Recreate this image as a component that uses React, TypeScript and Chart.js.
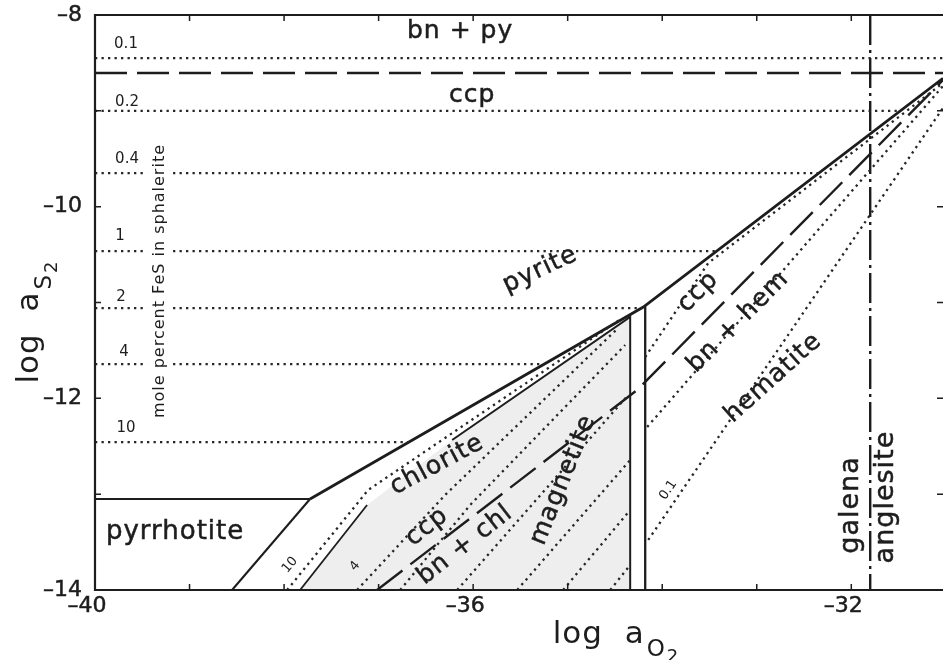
import { useEffect, useRef } from "react";
import { Chart, registerables } from "chart.js";

Chart.register(...registerables);

// ---------- axes ----------
const X_MIN = -40;
const X_MAX = -31.03;
const Y_MIN = -14;
const Y_MAX = -8;
const xTickValues = [-40, -36, -32];
const yTickValues = [-8, -10, -12, -14];
const xMinorTicks = [-39, -38, -37, -36, -35, -34, -33, -32, -31];
const yMinorTicks = [-9, -10, -11, -12, -13];

// ---------- solid phase boundaries (log aO2, log aS2) ----------
const pyrrhotiteTopX = [-40, -37.725];
const pyrrhotiteTopY = [-13.05, -13.05];
const pyriteBoundX = [-37.725, -34.2, -31.03];
const pyriteBoundY = [-13.05, -11.047, -8.66];
const pyrrhotiteMagX = [-37.725, -38.55];
const pyrrhotiteMagY = [-13.05, -14];
const chlMagLowX = [-37.831, -37.122];
const chlMagLowY = [-14, -13.113];
const chlMagUpX = [-36.222, -34.339, -34.339];
const chlMagUpY = [-12.435, -11.151, -14];
const magHemX = [-34.18, -34.18];
const magHemY = [-11.04, -14];

// ---------- ccp / bn boundaries (long dashed) ----------
const ccpBnPyX = [-40, -31.03];
const ccpBnPyY = [-8.605, -8.605];
const ccpBnX = [-37.016, -34.265, -31.03];
const ccpBnY = [-14, -11.913, -8.68];

// ---------- galena / anglesite (dash-dot) ----------
const galenaX = [-31.8, -31.8];
const galenaY = [-8, -14];

// ---------- FeS isopleths in sphalerite (mole %), pyrite field ----------
const fesLabels = ["0.1", "0.2", "0.4", "1", "2", "4", "10"];
const fesLevel = [-8.45, -9.0, -9.649, -10.463, -11.058, -11.642, -12.456];
const fesEndX = [-31.03, -31.48, -32.34, -33.42, -34.21, -35.25, -36.68];
const fesLabelX = [-39.672, -39.661, -39.661, -39.735, -39.725, -39.693, -39.672];
const fesLabelY = [-8.303, -8.908, -9.503, -10.306, -10.943, -11.517, -12.31];

// ---------- FeS isopleths, chlorite / magnetite field ----------
const m1X = [-37.968, -37.111, -34.423];
const m1Y = [-14, -12.957, -11.162];
const m2X = [-37.228, -36.296, -34.466];
const m2Y = [-14, -13.008, -11.266];
const m3X = [-36.772, -36.032, -34.392];
const m3Y = [-14, -13.113, -11.444];
const m4X = [-36.169, -34.36];
const m4Y = [-14, -11.965];
const m5X = [-35.534, -34.339];
const m5Y = [-14, -12.644];
const m6X = [-35.048, -34.339];
const m6Y = [-14, -13.165];
const m7X = [-34.55, -34.339];
const m7Y = [-14, -13.739];

// ---------- FeS isopleths, hematite field ----------
const h1X = [-34.18, -33.513, -31.03];
const h1Y = [-11.569, -10.588, -8.71];
const h2X = [-34.159, -31.03];
const h2Y = [-12.299, -8.741];
const h3X = [-34.148, -31.03];
const h3Y = [-13.478, -8.97];

// ---------- shaded (stippled) magnetite area ----------
const stippleX = [-37.831, -37.122, -36.222, -34.339, -34.339];
const stippleY = [-14, -13.113, -12.435, -11.151, -14];

// ---------- field labels ----------
const fieldText = ["bn + py", "ccp", "pyrite", "chlorite", "ccp", "bn + chl", "magnetite", "ccp", "bn + hem", "hematite", "pyrrhotite", "galena", "anglesite", "0.1", "10", "4"];
const fieldX = [-36.138, -36.011, -35.291, -36.381, -36.487, -36.085, -35.048, -33.619, -33.196, -32.825, -39.153, -32.0, -31.63, -33.937, -37.937, -37.249];
const fieldY = [-8.177, -8.835, -10.661, -12.696, -13.343, -13.531, -12.852, -10.891, -11.204, -11.788, -13.395, -13.113, -13.03, -12.957, -13.739, -13.75];
const fieldAngle = [0, 0, 25, 28, 38, 38, 68, 45, 45, 42, 0, 90, 90, 56, 50, 50];
const fieldSize = [25, 25, 25, 25, 25, 25, 25, 25, 25, 25, 26, 27, 27, 13, 13, 13];

const FONT = '"DejaVu Sans", sans-serif';
const INK = "#1d1d1d";

const pts = (xs: number[], ys: number[]) => xs.map((x, i) => ({ x, y: ys[i] }));

const solid = (xs: number[], ys: number[], w = 2.2) => ({
  data: pts(xs, ys), showLine: true, borderColor: INK, borderWidth: w,
  pointRadius: 0, fill: false, borderCapStyle: "butt" as const, borderJoinStyle: "miter" as const,
});
const dotted = (xs: number[], ys: number[]) => ({
  data: pts(xs, ys), showLine: true, borderColor: "#262626", borderWidth: 2.3,
  borderDash: [2.3, 4.2], pointRadius: 0, fill: false,
});
const dashed = (xs: number[], ys: number[]) => ({
  data: pts(xs, ys), showLine: true, borderColor: INK, borderWidth: 2.4,
  borderDash: [32, 10], pointRadius: 0, fill: false,
});

function buildDatasets() {
  const ds: any[] = [];
  fesLevel.forEach((lv, i) => ds.push(dotted([X_MIN, fesEndX[i]], [lv, lv])));
  [[m1X, m1Y], [m2X, m2Y], [m3X, m3Y], [m4X, m4Y], [m5X, m5Y], [m6X, m6Y], [m7X, m7Y], [h1X, h1Y], [h2X, h2Y], [h3X, h3Y]]
    .forEach(([a, b]) => ds.push(dotted(a, b)));
  ds.push(dashed(ccpBnPyX, ccpBnPyY));
  ds.push(dashed(ccpBnX, ccpBnY));
  ds.push({
    data: pts(galenaX, galenaY), showLine: true, borderColor: INK, borderWidth: 2.4,
    borderDash: [30, 5, 3, 5], pointRadius: 0, fill: false,
  });
  ds.push(solid(pyrrhotiteTopX, pyrrhotiteTopY, 2.1));
  ds.push(solid(pyriteBoundX, pyriteBoundY, 2.8));
  ds.push(solid(pyrrhotiteMagX, pyrrhotiteMagY, 2.1));
  ds.push(solid(chlMagLowX, chlMagLowY, 1.8));
  ds.push(solid(chlMagUpX, chlMagUpY, 2));
  ds.push(solid(magHemX, magHemY, 2.3));
  return ds;
}

const stipplePlugin = {
  id: "stipple",
  beforeDatasetsDraw(chart: any) {
    const { ctx, scales } = chart;
    ctx.save();
    ctx.beginPath();
    stippleX.forEach((v, i) => {
      const px = scales.x.getPixelForValue(v);
      const py = scales.y.getPixelForValue(stippleY[i]);
      if (i === 0) ctx.moveTo(px, py); else ctx.lineTo(px, py);
    });
    ctx.closePath();
    ctx.fillStyle = "rgba(0,0,0,0.065)";
    ctx.fill();
    ctx.restore();
  },
};

const TITLE = 31;

function drawSubTitle(ctx: CanvasRenderingContext2D, main: string, sub: string, sub2: string) {
  ctx.font = `${TITLE}px ${FONT}`;
  ctx.fillText(main, 0, 0);
  let w = ctx.measureText(main).width + 2;
  ctx.font = `23px ${FONT}`;
  ctx.fillText(sub, w, 13);
  w += ctx.measureText(sub).width + 1;
  ctx.font = `18px ${FONT}`;
  ctx.fillText(sub2, w, 19);
}

function titleWidth(ctx: CanvasRenderingContext2D, main: string, sub: string, sub2: string) {
  ctx.font = `${TITLE}px ${FONT}`;
  let w = ctx.measureText(main).width + 2;
  ctx.font = `23px ${FONT}`;
  w += ctx.measureText(sub).width + 1;
  ctx.font = `18px ${FONT}`;
  w += ctx.measureText(sub2).width;
  return w;
}

const overlayPlugin = {
  id: "overlay",
  afterDraw(chart: any) {
    const { ctx, chartArea: ca, scales } = chart;
    const X = (v: number) => scales.x.getPixelForValue(v);
    const Y = (v: number) => scales.y.getPixelForValue(v);
    ctx.save();
    ctx.strokeStyle = INK;
    ctx.fillStyle = INK;
    (ctx as any).letterSpacing = "0px";

    // frame
    ctx.lineWidth = 2.2;
    ctx.beginPath();
    ctx.moveTo(ca.right + 2, ca.top);
    ctx.lineTo(ca.left, ca.top);
    ctx.lineTo(ca.left, ca.bottom);
    ctx.lineTo(ca.right + 2, ca.bottom);
    ctx.stroke();

    // inward ticks
    ctx.lineWidth = 1.5;
    ctx.beginPath();
    xMinorTicks.forEach((v) => {
      const px = X(v);
      ctx.moveTo(px, ca.bottom); ctx.lineTo(px, ca.bottom - 6);
      ctx.moveTo(px, ca.top); ctx.lineTo(px, ca.top + 6);
    });
    yMinorTicks.forEach((v) => {
      const py = Y(v);
      ctx.moveTo(ca.left, py); ctx.lineTo(ca.left + 6, py);
      ctx.moveTo(ca.right, py); ctx.lineTo(ca.right - 6, py);
    });
    ctx.stroke();

    // tick labels
    ctx.font = `22px ${FONT}`;
    ctx.lineWidth = 0.5;
    ctx.textBaseline = "middle";
    ctx.textAlign = "right";
    yTickValues.forEach((v) => {
      const s = "\u2013" + Math.abs(v);
      ctx.fillText(s, ca.left - 13, Y(v));
      ctx.strokeText(s, ca.left - 13, Y(v));
    });
    ctx.textAlign = "center";
    xTickValues.forEach((v) => {
      const s = "\u2013" + Math.abs(v);
      ctx.fillText(s, X(v) - 8, ca.bottom + 16);
      ctx.strokeText(s, X(v) - 8, ca.bottom + 16);
    });

    // FeS note, rotated, with gap in the isopleths
    const nx = X(-39.312), ny = Y(-10.776);
    ctx.save();
    ctx.translate(nx, ny);
    ctx.rotate(-Math.PI / 2);
    ctx.font = `16px ${FONT}`;
    (ctx as any).letterSpacing = "1px";
    const note = "mole percent FeS in sphalerite";
    const nw = ctx.measureText(note).width;
    ctx.fillStyle = "#fff";
    ctx.fillRect(-nw / 2 - 3, -13, nw + 6, 26);
    ctx.fillStyle = INK;
    ctx.textAlign = "center";
    ctx.textBaseline = "middle";
    ctx.fillText(note, 0, 0);
    ctx.restore();

    // FeS isopleth labels
    ctx.font = `15px ${FONT}`;
    ctx.textAlign = "center";
    ctx.textBaseline = "middle";
    fesLabels.forEach((t, i) => ctx.fillText(t, X(fesLabelX[i]), Y(fesLabelY[i])));

    // field labels
    fieldText.forEach((t, i) => {
      ctx.save();
      ctx.translate(X(fieldX[i]), Y(fieldY[i]));
      ctx.rotate((-fieldAngle[i] * Math.PI) / 180);
      ctx.font = `${fieldSize[i]}px ${FONT}`;
      (ctx as any).letterSpacing = fieldSize[i] > 20 ? "1px" : "0px";
      ctx.textAlign = "center";
      ctx.textBaseline = "middle";
      ctx.lineWidth = 0.5;
      ctx.fillText(t, 0, 0);
      if (fieldSize[i] > 20) ctx.strokeText(t, 0, 0);
      ctx.restore();
    });

    // axis titles
    (ctx as any).letterSpacing = "1px";
    ctx.textAlign = "left";
    ctx.textBaseline = "alphabetic";
    const wx = titleWidth(ctx, "log  a", "O", "2");
    ctx.save();
    ctx.translate(616 - wx / 2, 643);
    drawSubTitle(ctx, "log  a", "O", "2");
    ctx.restore();

    const wy = titleWidth(ctx, "log  a", "S", "2");
    ctx.save();
    ctx.translate(38, 322 + wy / 2);
    ctx.rotate(-Math.PI / 2);
    drawSubTitle(ctx, "log  a", "S", "2");
    ctx.restore();

    ctx.restore();
  },
};

export default function App() {
  const ref = useRef<HTMLCanvasElement>(null);
  useEffect(() => {
    document.body.style.margin = "0";
    const canvas = ref.current!;
    const chart = new Chart(canvas, {
      type: "scatter",
      data: { datasets: buildDatasets() },
      options: {
        animation: false,
        responsive: false,
        devicePixelRatio: 1,
        layout: { padding: { left: 95, right: 0, top: 15, bottom: 70 } },
        scales: {
          x: { type: "linear", min: X_MIN, max: X_MAX, display: false },
          y: { type: "linear", min: Y_MIN, max: Y_MAX, display: false },
        },
        plugins: { legend: { display: false }, tooltip: { enabled: false } },
        elements: { point: { radius: 0 }, line: { tension: 0 } },
      } as any,
      plugins: [stipplePlugin, overlayPlugin],
    });
    return () => chart.destroy();
  }, []);
  return (
    <div style={{ position: "fixed", left: 0, top: 0, width: 943, height: 660, background: "#fff" }}>
      <canvas ref={ref} width={943} height={660} style={{ display: "block" }} />
    </div>
  );
}
